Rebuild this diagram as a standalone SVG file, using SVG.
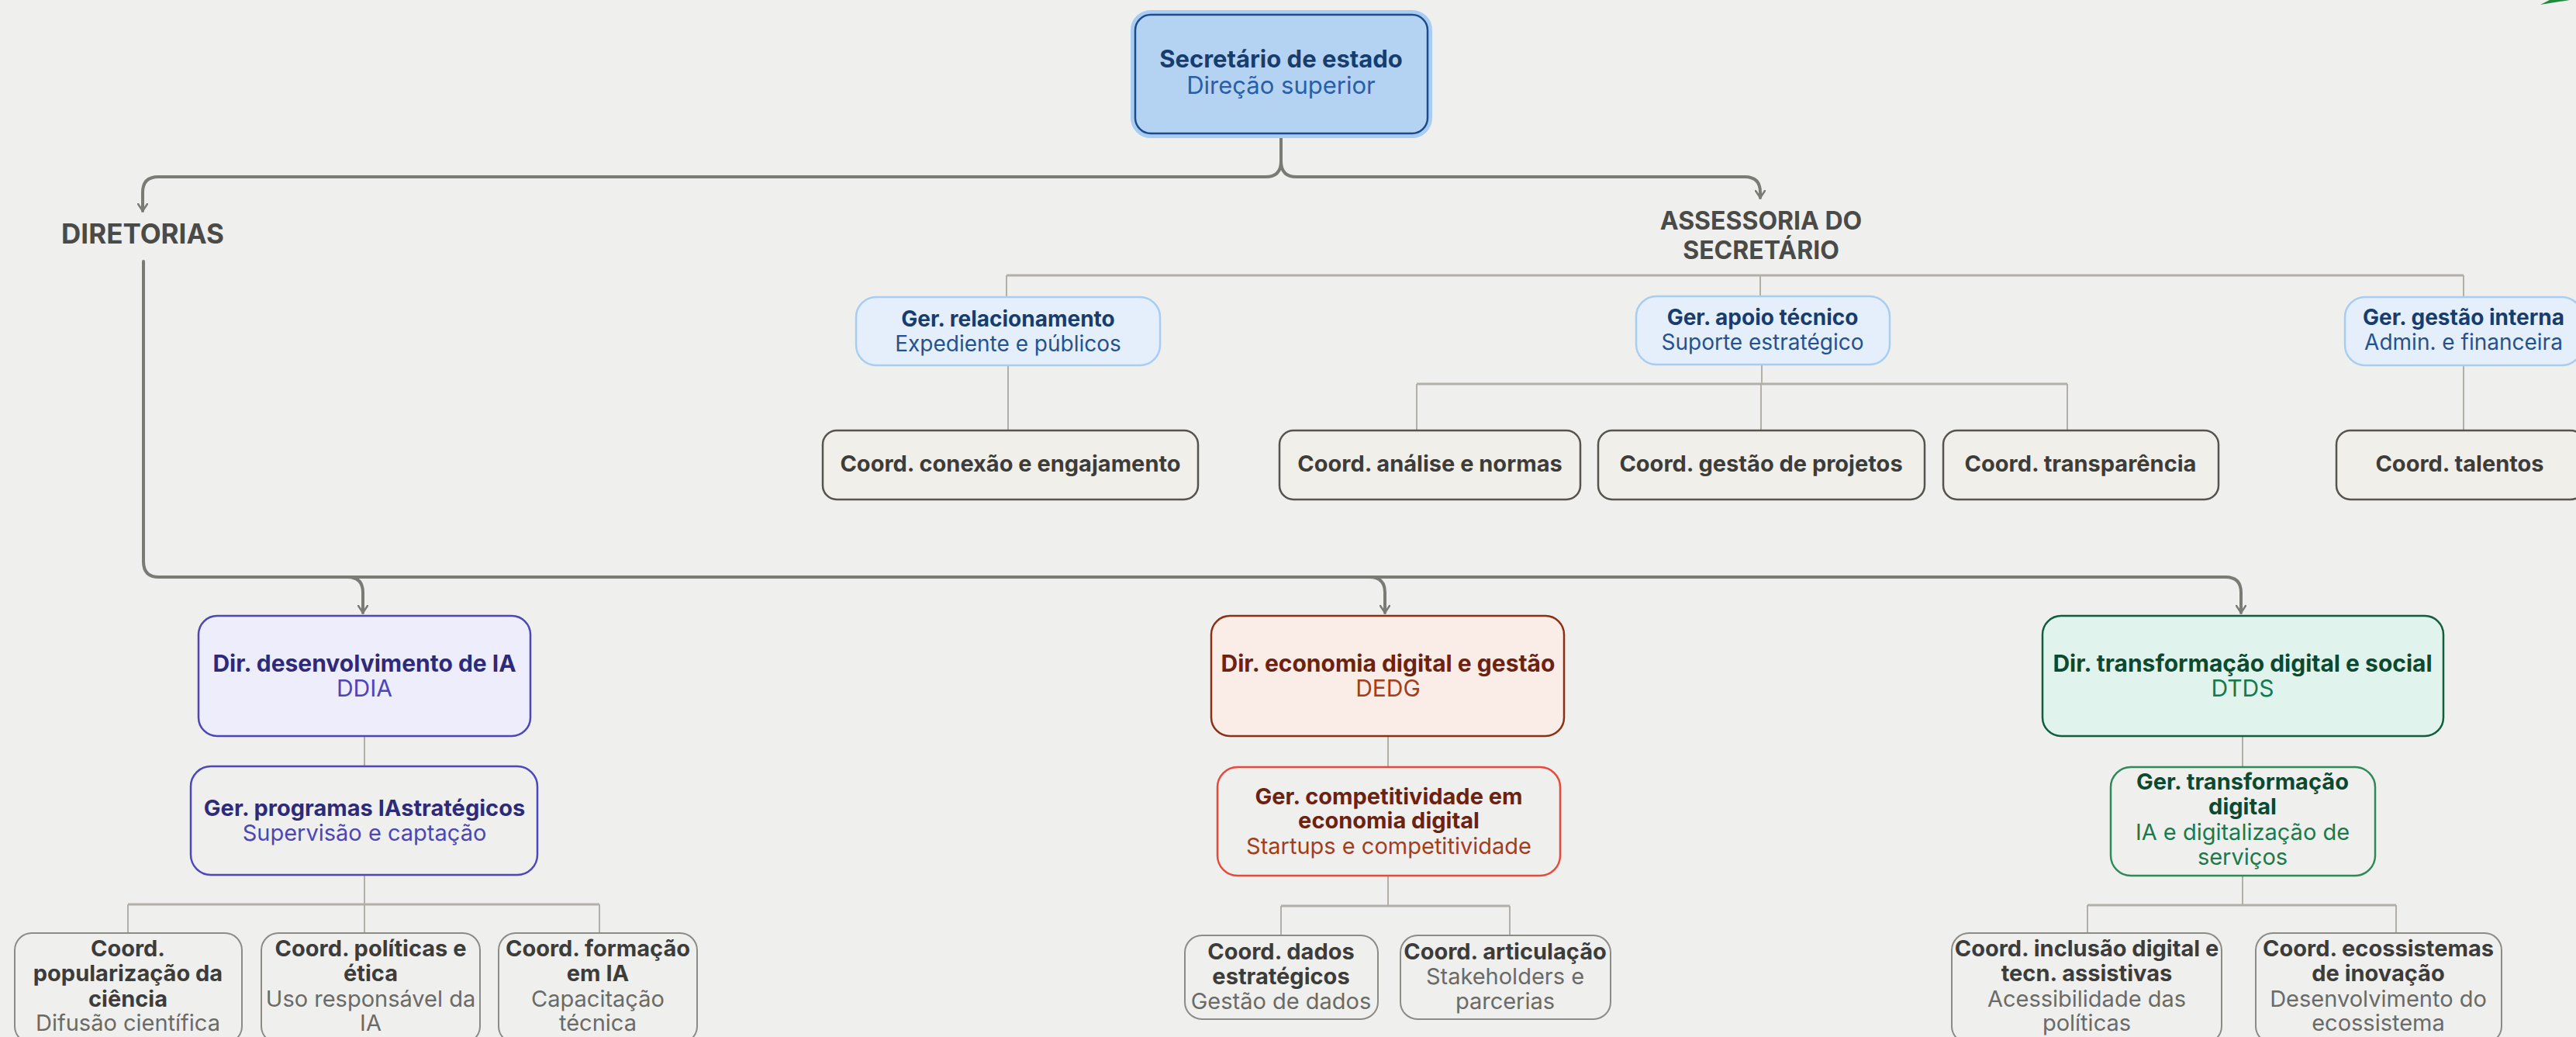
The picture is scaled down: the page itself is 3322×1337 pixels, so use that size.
<svg xmlns="http://www.w3.org/2000/svg" width="3322" height="1337" viewBox="0 0 3322 1337">
<defs>
<style>
.t{font-family:Inter,"Open Sans","Liberation Sans",sans-serif;text-anchor:middle}
.b{font-weight:700}
.r{font-weight:400}
.s1{font-size:31px}
.s2{font-size:28px}
.s3{font-size:29px}
.s4{font-size:30px}
.main{fill:none;stroke:#7b7b75;stroke-width:4;stroke-linecap:round;stroke-linejoin:round}
.sub{fill:none;stroke:#b1afa7;stroke-width:3}
.thin{fill:none;stroke:#b1afa7;stroke-width:2}
.gerb{fill:#e5effb;stroke:#a8cdf3;stroke-width:2.5}
.crd{fill:#f1efe9;stroke:#55544f;stroke-width:2.5}
.crd2{fill:none;stroke:#8c8b86;stroke-width:2}
.lbl{font-family:Inter,"Open Sans","Liberation Sans",sans-serif;font-weight:700;fill:#4a4a47;text-anchor:middle;font-size:35px}
.lbl2{font-family:Inter,"Open Sans","Liberation Sans",sans-serif;font-weight:700;fill:#4a4a47;text-anchor:middle;font-size:32px}
</style>
<marker id="arr" viewBox="0 0 12 14" refX="10" refY="7" markerWidth="12" markerHeight="14" markerUnits="userSpaceOnUse" orient="auto">
<path d="M1,1 L10,7 L1,13" fill="none" stroke="#7b7b75" stroke-width="2.5" stroke-linecap="round" stroke-linejoin="round"/>
</marker>
</defs>
<rect x="0" y="0" width="3322" height="1337" fill="#efefee"/>
<polygon points="3276,6 3288,0 3314,0" fill="#1e8a3c"/>

<g id="connectors">
<path class="main" d="M1652,172 V208 Q1652,228 1632,228 H204 Q184,228 184,248 V272" marker-end="url(#arr)"/>
<path class="main" d="M1652,208 Q1652,228 1672,228 H2250 Q2270,228 2270,248 V255" marker-end="url(#arr)"/>
<path class="main" d="M185,337 V724 Q185,744 205,744 H2870 Q2890,744 2890,764 V790" marker-end="url(#arr)"/>
<path class="main" d="M448,744 Q468,744 468,764 V790" marker-end="url(#arr)"/>
<path class="main" d="M1766,744 Q1786,744 1786,764 V790" marker-end="url(#arr)"/>
<path class="sub" d="M1298,355 H3177"/>
<path class="thin" d="M1298,355 V383 M2270,355 V382 M3177,355 V383"/>
<path class="thin" d="M1300,472 V555 M3177,471 V555"/>
<path class="thin" d="M2272,470 V495"/>
<path class="sub" d="M1827,495 H2666"/>
<path class="thin" d="M1827,495 V555 M2271,495 V555 M2666,495 V555"/>
<path class="thin" d="M470,949 V988 M470,1128 V1203"/>
<path class="sub" d="M165,1166 H773"/>
<path class="thin" d="M165,1166 V1203 M773,1166 V1203"/>
<path class="thin" d="M1790,949 V989 M1790,1129 V1168"/>
<path class="sub" d="M1652,1168 H1947"/>
<path class="thin" d="M1652,1168 V1206 M1947,1168 V1206"/>
<path class="thin" d="M2892,949 V989 M2892,1129 V1167"/>
<path class="sub" d="M2692,1167 H3090"/>
<path class="thin" d="M2692,1167 V1203 M3090,1167 V1203"/>
</g>

<g id="secretario">
<rect x="1461" y="16" width="383" height="159" rx="23" fill="none" stroke="#a9cdf2" stroke-width="6"/>
<rect x="1464" y="19" width="377" height="153" rx="20" fill="#b4d3f2" stroke="#1e4c8a" stroke-width="2.5"/>
<text class="t b s1" x="1652" y="87" fill="#173c6e">Secretário de estado</text>
<text class="t r s1" x="1652" y="121" fill="#2a5ea8">Direção superior</text>
</g>

<g id="diretorias"><text class="lbl" x="184" y="314">DIRETORIAS</text></g>
<g id="assessoria">
<text class="lbl2" x="2271" y="296">ASSESSORIA DO</text>
<text class="lbl2" x="2271" y="334">SECRETÁRIO</text>
</g>

<g id="ger-relacionamento">
<rect class="gerb" x="1104" y="383" width="392" height="88" rx="26"/>
<text class="t b s2" x="1300" y="421" fill="#173c6e">Ger. relacionamento</text>
<text class="t r s2" x="1300" y="453" fill="#24528f">Expediente e públicos</text>
</g>
<g id="ger-apoio">
<rect class="gerb" x="2110" y="382" width="327" height="88" rx="26"/>
<text class="t b s2" x="2273" y="419" fill="#173c6e">Ger. apoio técnico</text>
<text class="t r s2" x="2273" y="451" fill="#24528f">Suporte estratégico</text>
</g>
<g id="ger-gestao-interna">
<rect class="gerb" x="3024" y="383" width="306" height="88" rx="26"/>
<text class="t b s2" x="3177" y="419" fill="#173c6e">Ger. gestão interna</text>
<text class="t r s2" x="3177" y="451" fill="#24528f">Admin. e financeira</text>
</g>

<g id="coord-conexao"><rect class="crd" x="1061" y="555" width="484" height="89" rx="18"/>
<text class="t b s3" x="1303" y="608" fill="#3c3c3a">Coord. conexão e engajamento</text></g>
<g id="coord-analise"><rect class="crd" x="1650" y="555" width="388" height="89" rx="18"/>
<text class="t b s3" x="1844" y="608" fill="#3c3c3a">Coord. análise e normas</text></g>
<g id="coord-projetos"><rect class="crd" x="2061" y="555" width="421" height="89" rx="18"/>
<text class="t b s3" x="2271" y="608" fill="#3c3c3a">Coord. gestão de projetos</text></g>
<g id="coord-transparencia"><rect class="crd" x="2506" y="555" width="355" height="89" rx="18"/>
<text class="t b s3" x="2683" y="608" fill="#3c3c3a">Coord. transparência</text></g>
<g id="coord-talentos"><rect class="crd" x="3013" y="555" width="320" height="89" rx="18"/>
<text class="t b s3" x="3172" y="608" fill="#3c3c3a">Coord. talentos</text></g>

<g id="dir-ddia">
<rect x="256" y="794" width="428" height="155" rx="24" fill="#eeedfc" stroke="#4c46b6" stroke-width="2.5"/>
<text class="t b s4" x="470" y="866" fill="#2e2a7a">Dir. desenvolvimento de IA</text>
<text class="t r s4" x="470" y="898" fill="#4c46b6">DDIA</text>
</g>
<g id="ger-programas">
<rect x="246" y="988" width="447" height="140" rx="26" fill="none" stroke="#4c46c0" stroke-width="2.5"/>
<text class="t b s3" x="470" y="1052" fill="#2e2a7a">Ger. programas IAstratégicos</text>
<text class="t r s3" x="470" y="1084" fill="#4c46b6">Supervisão e captação</text>
</g>
<g id="coord-popularizacao">
<rect class="crd2" x="19" y="1203" width="293" height="142" rx="22"/>
<text class="t b s3" x="165" y="1233" fill="#3c3c3a">Coord.</text>
<text class="t b s3" x="165" y="1265" fill="#3c3c3a">popularização da</text>
<text class="t b s3" x="165" y="1298" fill="#3c3c3a">ciência</text>
<text class="t r s3" x="165" y="1329" fill="#6a6a66">Difusão científica</text>
</g>
<g id="coord-politicas">
<rect class="crd2" x="337" y="1203" width="282" height="142" rx="22"/>
<text class="t b s3" x="478" y="1233" fill="#3c3c3a">Coord. políticas e</text>
<text class="t b s3" x="478" y="1265" fill="#3c3c3a">ética</text>
<text class="t r s3" x="478" y="1298" fill="#6a6a66">Uso responsável da</text>
<text class="t r s3" x="478" y="1329" fill="#6a6a66">IA</text>
</g>
<g id="coord-formacao">
<rect class="crd2" x="643" y="1203" width="256" height="142" rx="22"/>
<text class="t b s3" x="771" y="1233" fill="#3c3c3a">Coord. formação</text>
<text class="t b s3" x="771" y="1265" fill="#3c3c3a">em IA</text>
<text class="t r s3" x="771" y="1298" fill="#6a6a66">Capacitação</text>
<text class="t r s3" x="771" y="1329" fill="#6a6a66">técnica</text>
</g>

<g id="dir-dedg">
<rect x="1562" y="794" width="455" height="155" rx="24" fill="#faece6" stroke="#8c3014" stroke-width="2.5"/>
<text class="t b s4" x="1790" y="866" fill="#6b2210">Dir. economia digital e gestão</text>
<text class="t r s4" x="1790" y="898" fill="#a33d1c">DEDG</text>
</g>
<g id="ger-competitividade">
<rect x="1570" y="989" width="442" height="140" rx="26" fill="none" stroke="#e84a3a" stroke-width="2.5"/>
<text class="t b s3" x="1791" y="1037" fill="#6b2210">Ger. competitividade em</text>
<text class="t b s3" x="1791" y="1068" fill="#6b2210">economia digital</text>
<text class="t r s3" x="1791" y="1101" fill="#a33d1c">Startups e competitividade</text>
</g>
<g id="coord-dados">
<rect class="crd2" x="1528" y="1206" width="249" height="108" rx="22"/>
<text class="t b s3" x="1652" y="1237" fill="#3c3c3a">Coord. dados</text>
<text class="t b s3" x="1652" y="1269" fill="#3c3c3a">estratégicos</text>
<text class="t r s3" x="1652" y="1301" fill="#6a6a66">Gestão de dados</text>
</g>
<g id="coord-articulacao">
<rect class="crd2" x="1806" y="1206" width="271" height="108" rx="22"/>
<text class="t b s3" x="1941" y="1237" fill="#3c3c3a">Coord. articulação</text>
<text class="t r s3" x="1941" y="1269" fill="#6a6a66">Stakeholders e</text>
<text class="t r s3" x="1941" y="1301" fill="#6a6a66">parcerias</text>
</g>

<g id="dir-dtds">
<rect x="2634" y="794" width="517" height="155" rx="24" fill="#e0f3ec" stroke="#0f5e3c" stroke-width="2.5"/>
<text class="t b s4" x="2892" y="866" fill="#0b4a30">Dir. transformação digital e social</text>
<text class="t r s4" x="2892" y="898" fill="#137a4d">DTDS</text>
</g>
<g id="ger-transformacao">
<rect x="2722" y="989" width="341" height="140" rx="26" fill="none" stroke="#2e8a57" stroke-width="2.5"/>
<text class="t b s3" x="2892" y="1018" fill="#0b4a30">Ger. transformação</text>
<text class="t b s3" x="2892" y="1050" fill="#0b4a30">digital</text>
<text class="t r s3" x="2892" y="1083" fill="#1a7a4c">IA e digitalização de</text>
<text class="t r s3" x="2892" y="1115" fill="#1a7a4c">serviços</text>
</g>
<g id="coord-inclusao">
<rect class="crd2" x="2517" y="1203" width="348" height="142" rx="22"/>
<text class="t b s3" x="2691" y="1233" fill="#3c3c3a">Coord. inclusão digital e</text>
<text class="t b s3" x="2691" y="1265" fill="#3c3c3a">tecn. assistivas</text>
<text class="t r s3" x="2691" y="1298" fill="#6a6a66">Acessibilidade das</text>
<text class="t r s3" x="2691" y="1329" fill="#6a6a66">políticas</text>
</g>
<g id="coord-ecossistemas">
<rect class="crd2" x="2909" y="1203" width="317" height="142" rx="22"/>
<text class="t b s3" x="3067" y="1233" fill="#3c3c3a">Coord. ecossistemas</text>
<text class="t b s3" x="3067" y="1265" fill="#3c3c3a">de inovação</text>
<text class="t r s3" x="3067" y="1298" fill="#6a6a66">Desenvolvimento do</text>
<text class="t r s3" x="3067" y="1329" fill="#6a6a66">ecossistema</text>
</g>
</svg>
